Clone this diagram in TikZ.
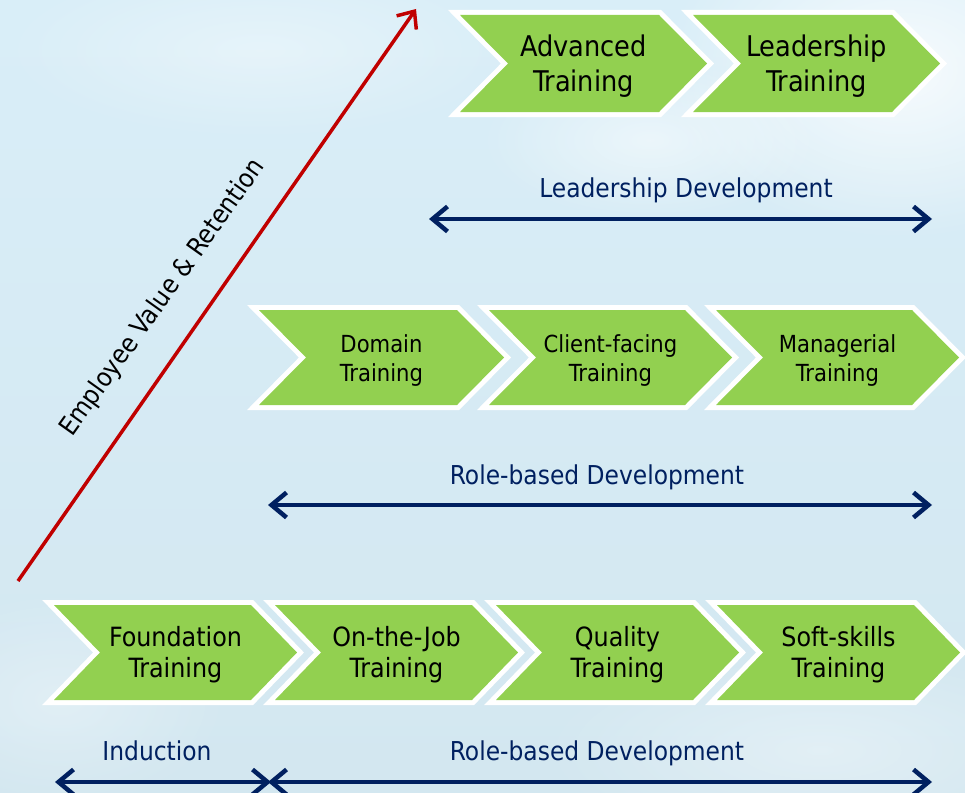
\documentclass[tikz,border=0pt]{standalone}
\usepackage{fontspec}
\setmainfont{DejaVu Sans Condensed}
\usetikzlibrary{arrows.meta,fadings}

\definecolor{chevgreen}{HTML}{92D050}
\definecolor{navy}{HTML}{002060}
\definecolor{axisred}{HTML}{C00000}
\definecolor{skytop}{HTML}{D9EEF8}
\definecolor{skymid}{HTML}{CCEBF9}
\definecolor{skybot}{HTML}{D3E7F0}

\tikzfading[name=softblob, inner color=transparent!0, outer color=transparent!100]

\tikzset{
  chevshape/.style={fill=chevgreen,
    preaction={draw=white, line width=10pt, line join=miter, miter limit=10}},
  rowA/.style={font=\fontsize{28.5}{35}\selectfont, align=center, text=black, inner sep=0pt, yshift=-3pt},
  rowB/.style={font=\fontsize{23.5}{29}\selectfont, align=center, text=black, inner sep=0pt, yshift=-3pt},
  rowC/.style={font=\fontsize{26.5}{31}\selectfont, align=center, text=black, inner sep=0pt, yshift=-2.5pt},
  phase/.style={font=\fontsize{26}{30}\selectfont, text=navy, anchor=base, inner sep=0pt},
  span/.style={draw=navy, line width=4.5pt,
    {Straight Barb[length=15pt,width=25pt]}-{Straight Barb[length=15pt,width=25pt]}},
  growth/.style={draw=axisred, line width=3.5pt, -{Straight Barb[length=14pt,width=24pt]}},
  cloud/.style={fill=white, path fading=softblob},
}

% #1 name, #2 left x, #3 top y, #4 width, #5 height, #6 point depth, #7 text style, #8 text
\newcommand\chevron[8]{%
  \path[chevshape] (#2,#3) -- ++(#4-#6,0) -- ++(#6,#5/2) -- ++(-#6,#5/2)
    -- ++(#6-#4,0) -- ++(#6,-#5/2) -- cycle;
  \node[#7] (#1) at (#2+#4/2,#3+#5/2) {#8};
}

\begin{document}
\begin{tikzpicture}[x=1pt, y=-1pt]
  \useasboundingbox (0,0) rectangle (965,792);
  \clip (0,0) rectangle (965,792);

  % sky
  \fill[top color=skytop, middle color=skymid, bottom color=skybot] (0,0) rectangle (965,792);
  \fill[cloud, opacity=.8] (900,70) ellipse [x radius=240pt, y radius=170pt];
  \fill[cloud, opacity=.5] (650,140) ellipse [x radius=170pt, y radius=80pt];
  \fill[cloud, opacity=.35] (260,50) ellipse [x radius=260pt, y radius=90pt];
  \fill[cloud, opacity=.35] (820,750) ellipse [x radius=280pt, y radius=100pt];
  \fill[cloud, opacity=.3] (60,700) ellipse [x radius=170pt, y radius=110pt];

  % top tier
  \chevron{adv}{460}{15}{247}{97}{48}{rowA}{Advanced\\Training}
  \chevron{lead}{693}{15}{247}{97}{48}{rowA}{Leadership\\Training}

  % middle tier
  \chevron{dom}{259}{310}{245}{95}{47}{rowB}{Domain\\Training}
  \chevron{cli}{489}{310}{243}{95}{47}{rowB}{Client-facing\\Training}
  \chevron{man}{716}{310}{243}{95}{47}{rowB}{Managerial\\Training}

  % bottom tier
  \chevron{fnd}{54}{605}{243}{95}{46}{rowC}{Foundation\\Training}
  \chevron{ojt}{275}{605}{243}{95}{46}{rowC}{On-the-Job\\Training}
  \chevron{qua}{496}{605}{243}{95}{46}{rowC}{Quality\\Training}
  \chevron{sft}{717}{605}{243}{95}{46}{rowC}{Soft-skills\\Training}

  % phase spans
  \node[phase] (ldlab) at (686,197) {Leadership Development};
  \coordinate (ldA) at (429,219);
  \coordinate (ldB) at (932,219);
  \draw[span] (ldA) -- (ldB);

  \node[phase] (rmlab) at (597,484) {Role-based Development};
  \coordinate (rmA) at (268,505);
  \coordinate (rmB) at (932,505);
  \draw[span] (rmA) -- (rmB);

  \node[phase] (indlab) at (157,760) {Induction};
  \node[phase] (rblab) at (597,760) {Role-based Development};
  \coordinate (indA) at (55,782);
  \coordinate (indB) at (271,782);
  \coordinate (rbA) at (268,782);
  \coordinate (rbB) at (932,782);
  \draw[span] (indA) -- (indB);
  \draw[span] (rbA) -- (rbB);

  % growth axis
  \coordinate (axA) at (18,581);
  \coordinate (axB) at (416,9);
  \draw[growth] (axA) -- (axB);
  \node[rotate=54.5, font=\fontsize{26}{30}\selectfont, text=black] (axlab) at (163,298)
    {Employee Value \& Retention};
\end{tikzpicture}
\end{document}
